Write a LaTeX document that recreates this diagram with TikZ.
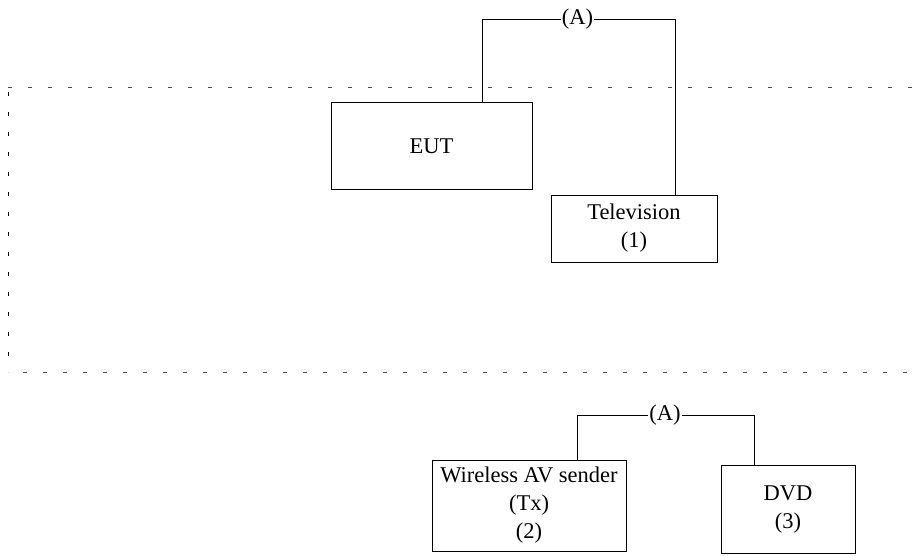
\documentclass[tikz,border=0pt]{standalone}
\usepackage{fontspec}
\setmainfont{Liberation Serif}
\begin{document}
\begin{tikzpicture}[x=1pt,y=-1pt,
  box/.style={draw,line width=1pt,rectangle,inner sep=0pt,align=center,font=\fontsize{22.5}{28}\selectfont},
  lbl/.style={fill=white,inner sep=1pt,font=\fontsize{22.5}{28}\selectfont},
  wire/.style={line width=1pt},
  zone/.style={line width=0.9pt,black!70,dash pattern=on 4pt off 16pt}]
\useasboundingbox (0,0) rectangle (915,555);
% dashed zone
\draw[zone] (8,87) -- (915,87);
\draw[zone,black,dash phase=-5pt] (8,87) -- (8,372);
\draw[zone,dash phase=-15pt] (8,372) -- (915,372);
% boxes
\node[box,minimum width=201pt,minimum height=87pt] (eut) at (431.5,146) {EUT};
\node[box,minimum width=166pt,minimum height=67pt] (tv) at (634,228.5) {Television\\(1)};
\node[box,minimum width=194pt,minimum height=91pt] (tx) at (529,505.5) {Wireless AV sender\\(Tx)\\(2)};
\node[box,minimum width=134pt,minimum height=88pt] (dvd) at (788,509.5) {DVD\\(3)};
% top connector
\coordinate (c1) at (482,19);
\coordinate (c2) at (675,19);
\node[lbl] (a1) at (577.5,19) {(A)};
\draw[wire] (eut.north -| c1) -- (c1) -- (a1.west);
\draw[wire] (a1.east) -- (c2) -- (tv.north -| c2);
% bottom connector
\coordinate (d1) at (577,415);
\coordinate (d2) at (754,415);
\node[lbl] (a2) at (665,415) {(A)};
\draw[wire] (tx.north -| d1) -- (d1) -- (a2.west);
\draw[wire] (a2.east) -- (d2) -- (dvd.north -| d2);
\end{tikzpicture}
\end{document}
